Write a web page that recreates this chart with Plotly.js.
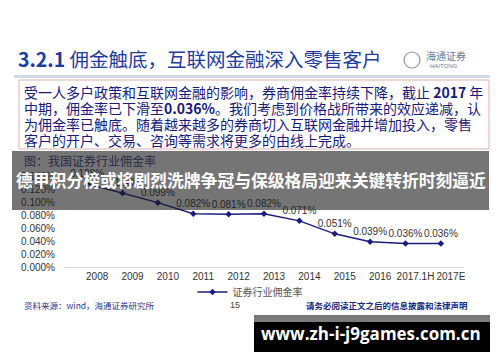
<!DOCTYPE html>
<html><head><meta charset="utf-8">
<script src="https://cdn.plot.ly/plotly-3.0.1.min.js"></script>
<style>html,body{margin:0;padding:0;background:#fff;}#chart{width:500px;height:362px;}</style>
</head><body><div id="chart"></div>
<script>
const years = ['2008','2009','2010','2011','2012','2013','2014','2015','2016','2017.1H','2017E'];
const rates = [0.128, 0.114, 0.099, 0.082, 0.081, 0.082, 0.071, 0.051, 0.039, 0.036, 0.036];
const seriesName = '证券行业佣金率';
const yTicks = [0, 0.02, 0.04, 0.06, 0.08, 0.10, 0.12, 0.14];
const yTickText = ['0.000%','0.020%','0.040%','0.060%','0.080%','0.100%','0.120%','0.140%'];

const L = 64, R = 464, T = 176, B = 267;
const px = x => (x - L) / (R - L);
const py = y => (B - y) / (B - T);
const CJK = '"Noto Sans CJK SC", sans-serif';
const SANS = '"Liberation Sans", Arial, sans-serif';

const trace = {
  x: years, y: rates, name: seriesName, type: 'scatter',
  mode: 'lines+markers+text',
  line: {color: '#1c1c80', width: 1.5},
  marker: {symbol: 'diamond', size: 5, color: '#1c1c80'},
  texttemplate: '%{y:.3f}%', textposition: 'top center',
  textfont: {family: SANS, size: 10, color: '#333'},
  cliponaxis: false, hoverinfo: 'skip'
};

function ann(x, y, text, size, color, extra) {
  return Object.assign({xref: 'paper', yref: 'paper', x: px(x), y: py(y), text: text,
    showarrow: false, xanchor: 'left', yanchor: 'middle',
    font: {family: CJK, size: size, color: color}}, extra || {});
}

const bodyLines = [
  '受一人多户政策和互联网金融的影响，券商佣金率持续下降，截止 <b>2017</b> 年',
  '中期，佣金率已下滑至<b>0.036%</b>。我们考虑到价格战所带来的效应递减，认',
  '为佣金率已触底。随着越来越多的券商切入互联网金融并增加投入，零售',
  '客户的开户、交易、咨询等需求将更多的由线上完成。'
];
const lineY = [92, 107.5, 124, 139.5];

const annotations = [
  ann(16, 58, '<b>3.2.1</b> 佣金触底，互联网金融深入零售客户', 19.5, '#1f3c9c'),
  ann(424, 56, '海通证券', 10, '#6b7a99'),
  ann(428, 66, 'HAITONG', 6, '#6b7a99', {font: {family: SANS, size: 6, color: '#6b7a99'}}),
  ann(22, 160, '图：我国证券行业佣金率', 12, '#262b45'),
  ann(251, 180, '<b>德甲积分榜或将剧烈洗牌争冠与保级格局迎来关键转折时刻逼近</b>', 16.8, '#ffffff', {xanchor: 'center'}),
  ann(22, 305, '资料来源：wind，海通证券研究所', 8.5, '#2a3a8a'),
  ann(235, 305, '15', 9, '#444', {xanchor: 'center', font: {family: SANS, size: 9, color: '#444'}}),
  ann(387, 305, '<b>请务必阅读正文之后的信息披露和法律声明</b>', 8.5, '#1a2a80', {xanchor: 'center'}),
  ann(371, 333, '<b>www.zh-i-j9games.com.cn</b>', 17, '#ffffff', {xanchor: 'center', font: {family: '"Open Sans", sans-serif', size: 17, color: '#ffffff'}})
];
bodyLines.forEach((t, i) => annotations.push(ann(22, lineY[i], t, 14, '#1a1a7a')));

function rect(x0, y0, x1, y1, fill, lineColor, layer) {
  return {type: 'rect', xref: 'paper', yref: 'paper', x0: px(x0), x1: px(x1), y0: py(y1), y1: py(y0),
    fillcolor: fill, line: {color: lineColor || 'rgba(0,0,0,0)', width: lineColor ? 1 : 0}, layer: layer || 'above'};
}

const shapes = [
  rect(14, 75, 490, 78, '#d3d9e6'),
  rect(19, 80, 489, 149, 'rgba(0,0,0,0)', '#dcb0b0'),
  {type: 'circle', xref: 'paper', yref: 'paper', x0: px(404), x1: px(420), y0: py(68), y1: py(52),
    line: {color: '#8a97b3', width: 1.2}, fillcolor: 'rgba(0,0,0,0)', layer: 'above'},
  rect(12, 151, 489, 210, 'rgba(25,25,25,0.6)'),
  rect(254, 315, 490, 322, '#7a7a7a'),
  rect(254, 322, 490, 352, '#000000')
];

const layout = {
  width: 500, height: 362,
  margin: {l: L, r: 500 - R, t: T, b: 362 - B, pad: 0},
  paper_bgcolor: '#ffffff', plot_bgcolor: '#ffffff',
  showlegend: true,
  legend: {orientation: 'h', x: px(250), xanchor: 'center', y: py(292), yanchor: 'middle',
    font: {family: CJK, size: 10, color: '#555'}, bgcolor: 'rgba(0,0,0,0)'},
  xaxis: {type: 'category', showgrid: false, zeroline: false, showline: true, linecolor: '#dcdcdc', linewidth: 1,
    ticks: '', tickangle: 0, tickfont: {family: SANS, size: 10, color: '#333'}, ticklabelshift: 10, fixedrange: true},
  yaxis: {range: [0, 0.14], tickvals: yTicks, ticktext: yTickText, showgrid: false, zeroline: false,
    showline: false, ticks: '', ticklabelstandoff: 8, tickfont: {family: SANS, size: 10, color: '#333'}, fixedrange: true},
  annotations: annotations,
  shapes: shapes
};

Plotly.newPlot('chart', [trace], layout, {displayModeBar: false, staticPlot: true});
</script>
</body></html>
